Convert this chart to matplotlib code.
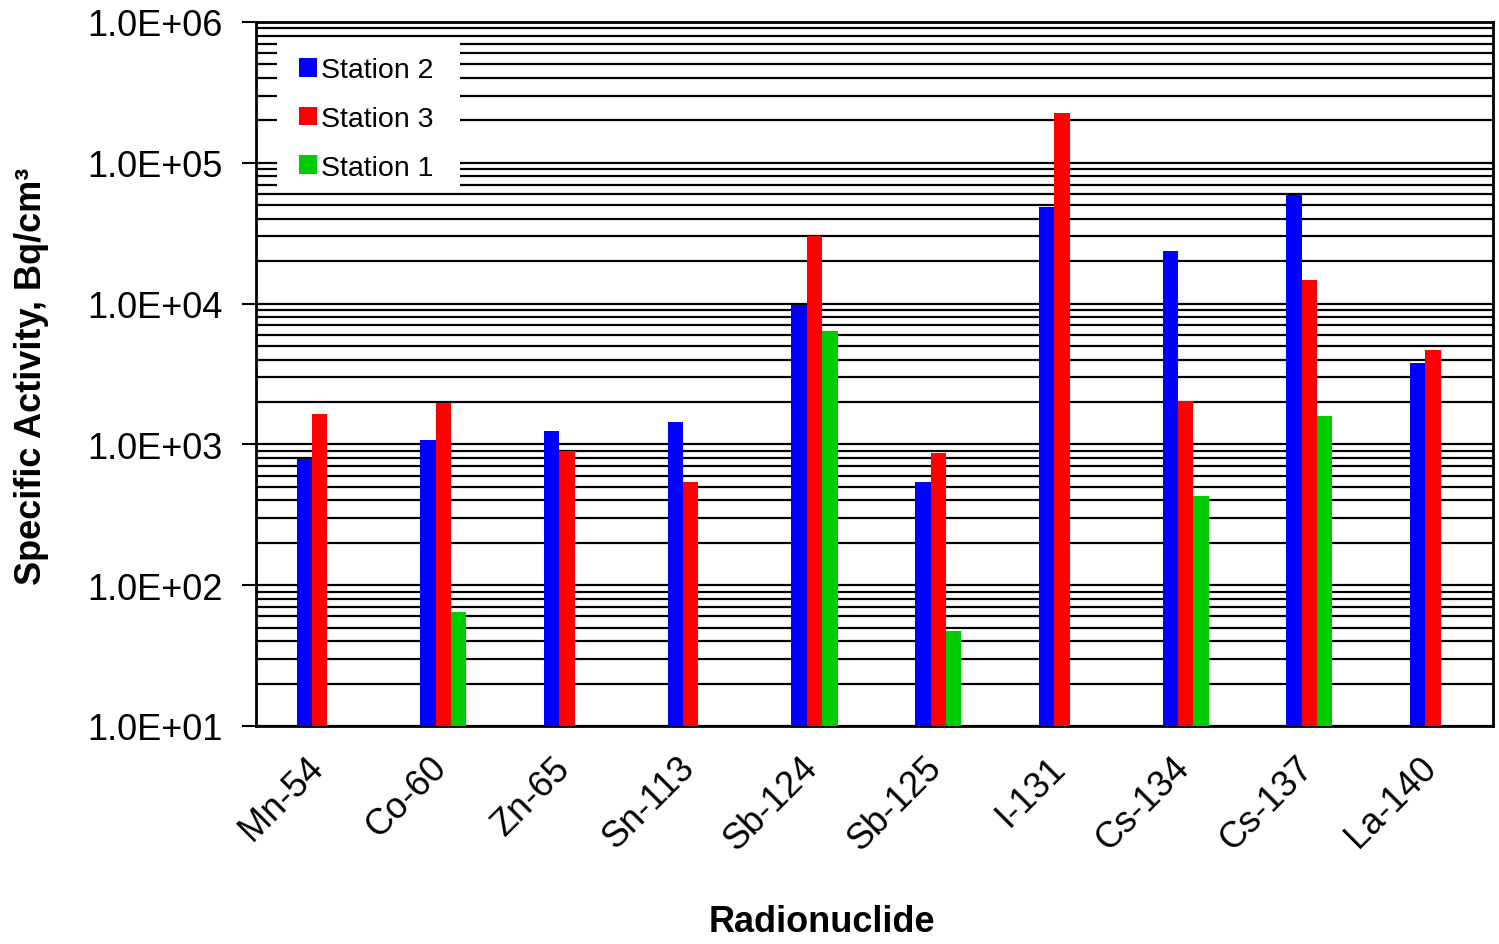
import numpy as np
import matplotlib.pyplot as plt
from matplotlib.ticker import LogLocator, FuncFormatter, NullFormatter
from matplotlib.patches import Rectangle

plt.rcParams['font.family'] = ['Liberation Sans', 'DejaVu Sans']

nuclides = ['Mn-54', 'Co-60', 'Zn-65', 'Sn-113', 'Sb-124', 'Sb-125',
            'I-131', 'Cs-134', 'Cs-137', 'La-140']
station2 = [785, 1070, 1250, 1435, 9850, 543, 48300, 23500, 59300, 3770]
station3 = [1650, 1970, 900, 543, 30000, 865, 225000, 2040, 14700, 4660]
station1 = [None, 65, None, None, 6420, 47, None, 430, 1590, None]

series = [('Station 2', station2, '#0000ff'),
          ('Station 3', station3, '#ff0000'),
          ('Station 1', station1, '#00cc00')]

fig = plt.figure(figsize=(14.99, 9.45), dpi=100)
ax = fig.add_axes([256 / 1499, 218 / 945, 1237 / 1499, 704 / 945])

x = np.arange(len(nuclides))
w = 0.124
for k, (name, vals, col) in enumerate(series):
    idx = [i for i, v in enumerate(vals) if v is not None]
    h = [vals[i] for i in idx]
    ax.bar(x[idx] + (k - 1) * w + 0.015, h, width=w, color=col, label=name,
           edgecolor='none', zorder=3)

ax.set_yscale('log')
ax.set_ylim(10, 1e6)
ax.set_xlim(-0.5, len(nuclides) - 0.5)
ax.yaxis.set_major_locator(LogLocator(base=10))
ax.yaxis.set_minor_locator(LogLocator(base=10, subs=np.arange(2, 10)))
ax.yaxis.set_major_formatter(FuncFormatter(lambda v, p: f'{v:.1E}'))
ax.yaxis.set_minor_formatter(NullFormatter())
ax.yaxis.grid(True, which='both', color='black', lw=1.6, zorder=1)
ax.set_axisbelow(True)

ax.tick_params(axis='y', which='major', length=10, width=1.5, labelsize=26, pad=14)
ax.tick_params(axis='y', which='minor', length=0)
ax.tick_params(axis='x', length=0, labelsize=26, pad=26)
ax.set_xticks(x)
ax.set_xticklabels(nuclides, rotation=45, ha='right', va='center',
                   rotation_mode='anchor')
for s in ax.spines.values():
    s.set_linewidth(2)
    s.set_color('black')

ax.set_ylabel('Specific Activity, Bq/cm³', fontsize=26, fontweight='bold')
ax.yaxis.set_label_coords(-0.167, 0.498)
ax.set_xlabel('Radionuclide', fontsize=26, fontweight='bold')
ax.xaxis.set_label_coords(0.4576, -0.253)

# white box behind the legend, covering the gridlines
ax.add_patch(Rectangle((21 / 1237, (727 - 190) / 704), 183 / 1237, 148 / 704,
                       transform=ax.transAxes, facecolor='white',
                       edgecolor='none', zorder=4))
leg = ax.legend(loc='upper left', bbox_to_anchor=(0.0348, 0.95),
                frameon=False, fontsize=20.5, borderpad=0, borderaxespad=0,
                handlelength=0.63, handleheight=0.63, handletextpad=0.15,
                labelspacing=0.8)
leg.set_zorder(5)

fig.savefig('out.png', dpi=100)
